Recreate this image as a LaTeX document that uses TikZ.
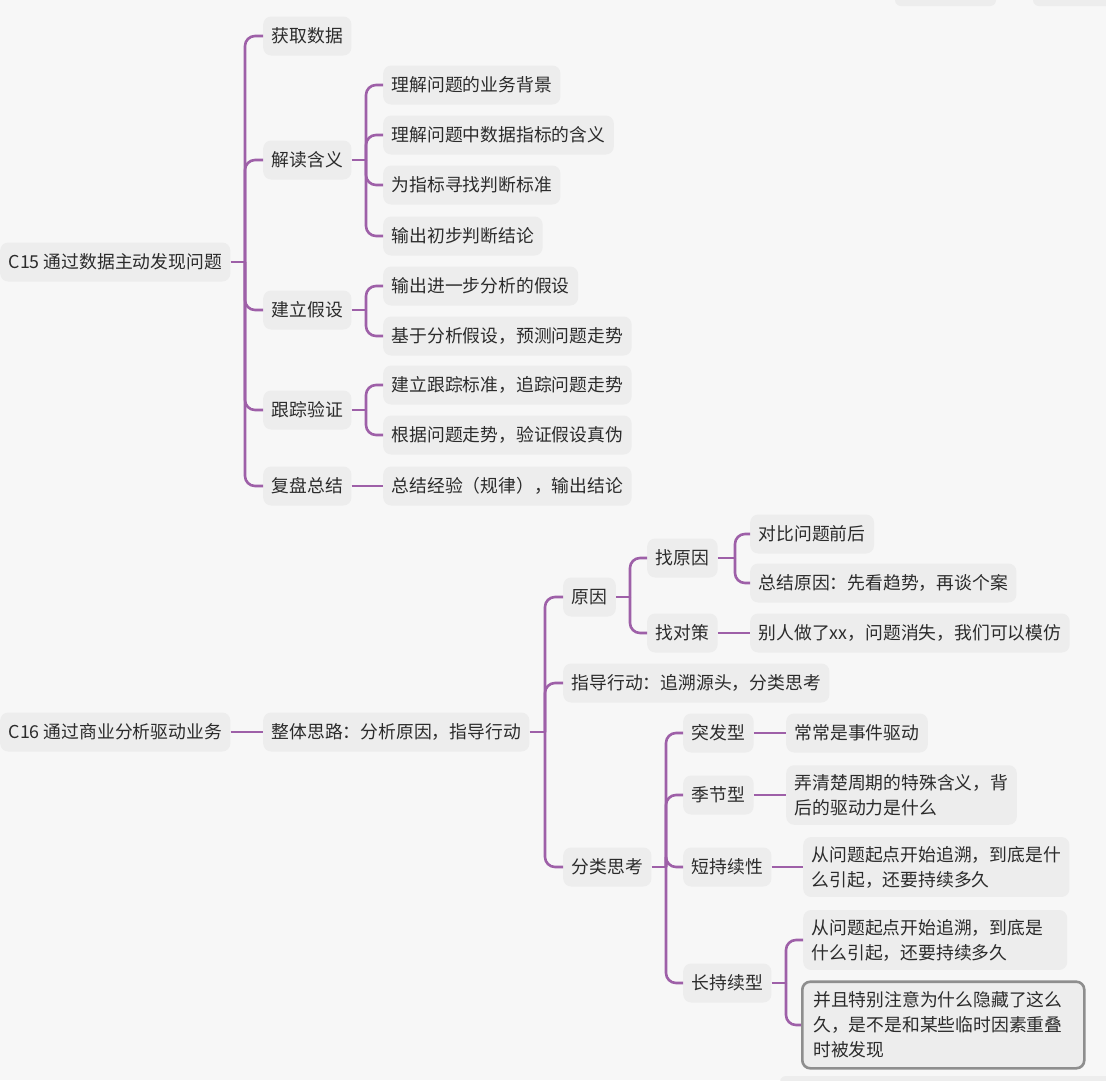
\documentclass[tikz,border=0pt]{standalone}
\usepackage{fontspec}
\newfontfamily\cjk{Noto Sans CJK SC}
\definecolor{bgc}{HTML}{F7F7F7}
\definecolor{nodefill}{HTML}{EDEDED}
\definecolor{txt}{HTML}{2B2B2B}
\definecolor{purp}{RGB}{158,96,168}
\definecolor{selc}{HTML}{8E8E8E}
\tikzset{
  mm/.style={fill=nodefill, rounded corners=8pt, inner xsep=8.5pt, inner ysep=9pt,
    minimum height=39pt, anchor=west, text=txt, align=left,
    font=\cjk\fontsize{17.8}{25}\selectfont},
  conn/.style={draw=purp, line width=2.6pt, rounded corners=10pt},
  selbox/.style={draw=selc, line width=2.6pt, inner xsep=11pt, inner ysep=10pt}
}
\begin{document}
\begin{tikzpicture}[x=1pt,y=-1pt]
\fill[bgc] (0,0) rectangle (1106,1080);
\useasboundingbox (0,0) rectangle (1106,1080);
% faint fragments of off-picture boxes
\fill[nodefill, rounded corners=6pt] (895,-20) rectangle (996,6);
\fill[nodefill, rounded corners=6pt] (1033,-20) rectangle (1130,6);
\fill[nodefill, rounded corners=6pt] (780,1076) rectangle (1130,1110);

% ---------- C15 ----------
\node[mm] (r1) at (0,262) {C15 通过数据主动发现问题};
\node[mm] (a1) at (263,36) {获取数据};
\node[mm] (a2) at (263,160) {解读含义};
\node[mm] (a3) at (263,310) {建立假设};
\node[mm] (a4) at (263,410) {跟踪验证};
\node[mm] (a5) at (263,486) {复盘总结};
\node[mm] (b1) at (383,85) {理解问题的业务背景};
\node[mm] (b2) at (383,135) {理解问题中数据指标的含义};
\node[mm] (b3) at (383,185) {为指标寻找判断标准};
\node[mm] (b4) at (383,236) {输出初步判断结论};
\node[mm] (b5) at (383,286) {输出进一步分析的假设};
\node[mm] (b6) at (383,336) {基于分析假设，预测问题走势};
\node[mm] (b7) at (383,385) {建立跟踪标准，追踪问题走势};
\node[mm] (b8) at (383,435) {根据问题走势，验证假设真伪};
\node[mm] (b9) at (383,486) {总结经验（规律），输出结论};

\coordinate (tA) at (245,262);
\coordinate (tB) at (366,160);
\coordinate (tC) at (366,310);
\coordinate (tD) at (366,410);
\draw[conn] (r1.east) -- (tA);
\foreach \c in {a1,a2,a3,a4,a5} \draw[conn] (tA) |- (\c.west);
\draw[conn] (a2.east) -- (tB);
\foreach \c in {b1,b2,b3,b4} \draw[conn] (tB) |- (\c.west);
\draw[conn] (a3.east) -- (tC);
\foreach \c in {b5,b6} \draw[conn] (tC) |- (\c.west);
\draw[conn] (a4.east) -- (tD);
\foreach \c in {b7,b8} \draw[conn] (tD) |- (\c.west);
\draw[conn] (a5.east) -- (b9.west);

% ---------- C16 ----------
\node[mm] (r2) at (0,732) {C16 通过商业分析驱动业务};
\node[mm] (w) at (263,732) {整体思路：分析原因，指导行动};
\node[mm] (c1) at (563,597) {原因};
\node[mm] (c2) at (563,683) {指导行动：追溯源头，分类思考};
\node[mm] (c3) at (563,867) {分类思考};
\node[mm] (d1) at (647,558) {找原因};
\node[mm] (d2) at (647,633) {找对策};
\node[mm] (e1) at (750,534) {对比问题前后};
\node[mm] (e2) at (750,583) {总结原因：先看趋势，再谈个案};
\node[mm] (e3) at (750,633) {别人做了xx，问题消失，我们可以模仿};
\node[mm] (f1) at (683,733) {突发型};
\node[mm] (f2) at (683,795) {季节型};
\node[mm] (f3) at (683,867) {短持续性};
\node[mm] (f4) at (683,983) {长持续型};
\node[mm] (g1) at (786,733) {常常是事件驱动};
\node[mm] (g2) at (786,795) {弄清楚周期的特殊含义，背\\后的驱动力是什么};
\node[mm] (g3) at (803,867) {从问题起点开始追溯，到底是什\\么引起，还要持续多久};
\node[mm, text width=247pt] (g4) at (803,940) {从问题起点开始追溯，到底是\\什么引起，还要持续多久};
\node[mm, selbox, text width=260pt] (g5) at (801,1025) {并且特别注意为什么隐藏了这么\\久，是不是和某些临时因素重叠\\时被发现};

\coordinate (tE) at (545,732);
\coordinate (tF) at (630,597);
\coordinate (tG) at (735,558);
\coordinate (tH) at (666,867);
\coordinate (tI) at (786,983);
\draw[conn] (r2.east) -- (w.west);
\draw[conn] (w.east) -- (tE);
\foreach \c in {c1,c2,c3} \draw[conn] (tE) |- (\c.west);
\draw[conn] (c1.east) -- (tF);
\foreach \c in {d1,d2} \draw[conn] (tF) |- (\c.west);
\draw[conn] (d1.east) -- (tG);
\foreach \c in {e1,e2} \draw[conn] (tG) |- (\c.west);
\draw[conn] (d2.east) -- (e3.west);
\draw[conn] (c3.east) -- (tH);
\foreach \c in {f1,f2,f3,f4} \draw[conn] (tH) |- (\c.west);
\draw[conn] (f1.east) -- (g1.west);
\draw[conn] (f2.east) -- (g2.west);
\draw[conn] (f3.east) -- (g3.west);
\draw[conn] (f4.east) -- (tI);
\foreach \c in {g4,g5} \draw[conn] (tI) |- (\c.west);
\end{tikzpicture}
\end{document}
